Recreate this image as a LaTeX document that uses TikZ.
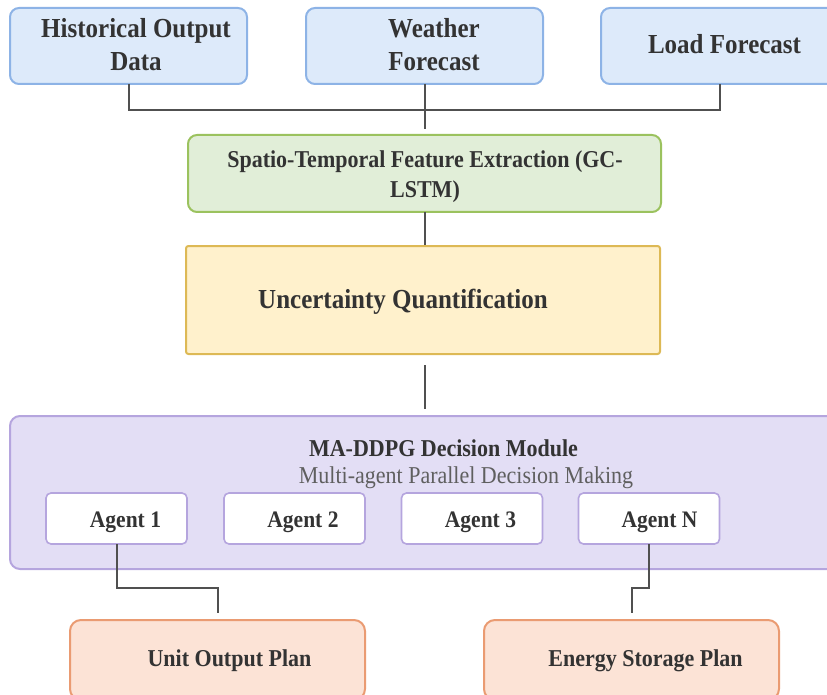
\documentclass[tikz,border=0pt]{standalone}
\usepackage{fontspec}
\usepackage{graphicx}
\setmainfont{Liberation Serif}
\definecolor{txtgray}{HTML}{333333}
\definecolor{subgray}{HTML}{5F5F5F}
\definecolor{wiregray}{HTML}{505050}
\definecolor{bluefill}{HTML}{DDEAFA}
\definecolor{blueline}{HTML}{8DB3E6}
\definecolor{greenfill}{HTML}{E1EED8}
\definecolor{greenline}{HTML}{9BC25E}
\definecolor{yellowfill}{HTML}{FFF1CC}
\definecolor{yellowline}{HTML}{DDB955}
\definecolor{purplefill}{HTML}{E3DEF5}
\definecolor{purpleline}{HTML}{B5A5DE}
\definecolor{orangefill}{HTML}{FCE3D6}
\definecolor{orangeline}{HTML}{EA9B72}
% slightly taller letter shapes
\newcommand{\tallt}[1]{\scalebox{1}[1.1]{#1}}
\begin{document}
\begin{tikzpicture}[x=1pt,y=-1pt,
  box/.style={draw, line width=2pt, inner sep=0pt, outer sep=0pt, rectangle},
  inputbox/.style={box, fill=bluefill, draw=blueline, rounded corners=9pt,
    minimum width=237pt, minimum height=76pt},
  featbox/.style={box, fill=greenfill, draw=greenline, rounded corners=9pt},
  uqbox/.style={box, fill=yellowfill, draw=yellowline, rounded corners=2.5pt},
  modbox/.style={box, fill=purplefill, draw=purpleline, rounded corners=10pt},
  agentbox/.style={box, fill=white, draw=purpleline, line width=1.6pt, rounded corners=5pt,
    minimum width=141pt, minimum height=51pt},
  planbox/.style={box, fill=orangefill, draw=orangeline, rounded corners=11pt,
    minimum width=295pt, minimum height=80pt},
  lbl/.style={text=txtgray, inner sep=0pt, anchor=base, align=center},
  wire/.style={draw=wiregray, line width=2pt}
]
\useasboundingbox (0,0) rectangle (827,695);
\clip (0,0) rectangle (827,695);

% input sources
\node[inputbox] (hist) at (128.5,46) {};
\node[inputbox] (weather) at (424.5,46) {};
\node[inputbox] (load) at (719.5,46) {};
\node[lbl, font=\fontsize{25}{33}\selectfont\bfseries] (histt) at (136,71) {\tallt{Historical Output}\\\tallt{Data}};
\node[lbl, font=\fontsize{25}{33}\selectfont\bfseries] (weathert) at (434,71) {\tallt{Weather}\\\tallt{Forecast}};
\node[lbl, font=\fontsize{25}{33}\selectfont\bfseries] (loadt) at (724.5,54) {\tallt{Load Forecast}};

% feature extraction
\node[featbox, minimum width=473pt, minimum height=77pt] (feat) at (424.5,173.5) {};
\node[lbl, font=\fontsize{22}{30}\selectfont\bfseries] (featt) at (425,197)
  {\tallt{Spatio-Temporal Feature Extraction (GC-}\\\tallt{LSTM)}};

% uncertainty
\node[uqbox, minimum width=474pt, minimum height=108pt] (uq) at (423,300) {};
\node[lbl, font=\fontsize{25}{30}\selectfont\bfseries] (uqt) at (403,308) {\tallt{Uncertainty Quantification}};

% decision module
\node[modbox, minimum width=830pt, minimum height=153pt] (mod) at (425,492.5) {};
\node[lbl, font=\fontsize{22}{26}\selectfont\bfseries] (modt) at (443.5,456) {\tallt{MA-DDPG Decision Module}};
\node[lbl, text=subgray, font=\fontsize{22}{26}\selectfont] (mods) at (466,483) {\tallt{Multi-agent Parallel Decision Making}};

\node[agentbox] (a1) at (116.5,518.5) {};
\node[agentbox] (a2) at (294.5,518.5) {};
\node[agentbox] (a3) at (472,518.5) {};
\node[agentbox] (an) at (649,518.5) {};
\node[lbl, font=\fontsize{21.5}{26}\selectfont\bfseries] (a1t) at (125.5,527) {\tallt{Agent 1}};
\node[lbl, font=\fontsize{21.5}{26}\selectfont\bfseries] (a2t) at (303,527) {\tallt{Agent 2}};
\node[lbl, font=\fontsize{21.5}{26}\selectfont\bfseries] (a3t) at (480.5,527) {\tallt{Agent 3}};
\node[lbl, font=\fontsize{21.5}{26}\selectfont\bfseries] (ant) at (659.5,527) {\tallt{Agent N}};

% outputs
\node[planbox] (unit) at (217.5,660) {};
\node[planbox] (store) at (631.5,660) {};
\node[lbl, font=\fontsize{22}{26}\selectfont\bfseries] (unitt) at (229.5,666) {\tallt{Unit Output Plan}};
\node[lbl, font=\fontsize{22}{26}\selectfont\bfseries] (storet) at (645.5,666) {\tallt{Energy Storage Plan}};

% connectors
\coordinate (bus) at (424.5,110);
\draw[wire] (hist.south) |- (bus) -| (load.south);
\draw[wire, shorten >=6pt] (weather.south) -- (feat.north);
\draw[wire, shorten >=1.5pt] (feat.south) -- (feat.south |- uq.north);
\draw[wire, shorten <=11pt, shorten >=7pt] (uq.south -| feat.south) -- (feat.south |- mod.north);
\draw[wire, shorten >=7pt] (a1.south) -- ++(0,44) -| (unit.north);
\draw[wire, shorten >=7pt] (an.south) -- ++(0,44) -| (store.north);
\end{tikzpicture}
\end{document}
